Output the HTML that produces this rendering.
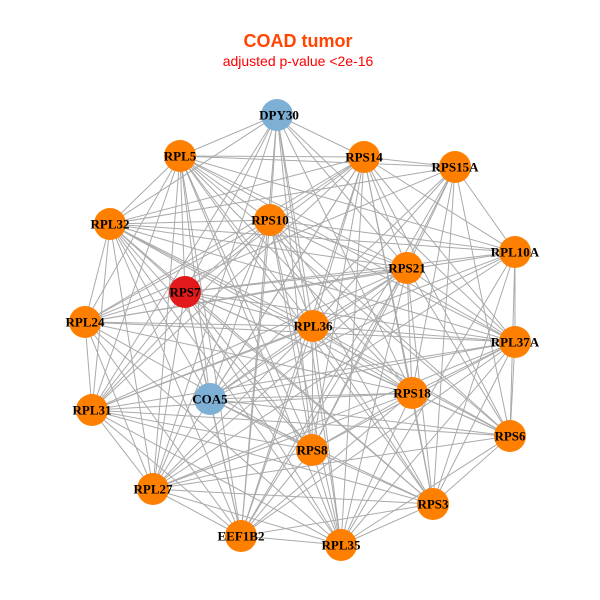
<!DOCTYPE html>
<html><head><meta charset="utf-8"><style>
html,body{margin:0;padding:0;background:#fff;width:600px;height:600px;overflow:hidden}
svg{display:block}
.l{font-family:"Liberation Serif",serif;font-weight:bold;font-size:13px;fill:#000;text-anchor:middle;dominant-baseline:central}
</style></head><body>
<svg id="s" width="600" height="600" viewBox="0 0 600 600">
<text x="298" y="47" text-anchor="middle" font-family="Liberation Sans, sans-serif" font-weight="bold" font-size="18" fill="#FF4500">COAD tumor</text>
<text x="298" y="66" text-anchor="middle" font-family="Liberation Sans, sans-serif" font-size="14" fill="#FF0000">adjusted p-value &lt;2e-16</text>
<g id="e" stroke="#aaaaaa" stroke-width="1"></g>
<g id="n"></g>
<g>
<text class="l" x="279" y="115">DPY30</text>
<text class="l" x="180" y="156">RPL5</text>
<text class="l" x="364" y="157">RPS14</text>
<text class="l" x="455" y="167">RPS15A</text>
<text class="l" x="110" y="224">RPL32</text>
<text class="l" x="270" y="220">RPS10</text>
<text class="l" x="515" y="252">RPL10A</text>
<text class="l" x="407" y="268">RPS21</text>
<text class="l" x="185" y="292">RPS7</text>
<text class="l" x="85" y="322">RPL24</text>
<text class="l" x="313" y="326">RPL36</text>
<text class="l" x="515" y="342">RPL37A</text>
<text class="l" x="210" y="399">COA5</text>
<text class="l" x="412" y="393">RPS18</text>
<text class="l" x="92" y="410">RPL31</text>
<text class="l" x="510" y="436">RPS6</text>
<text class="l" x="312" y="450">RPS8</text>
<text class="l" x="153" y="489">RPL27</text>
<text class="l" x="433" y="504">RPS3</text>
<text class="l" x="241" y="536">EEF1B2</text>
<text class="l" x="341" y="545">RPL35</text>
</g>
</svg>
<script>
var N=[[277,115,'b'],[180,156],[364,157],[455,167],[110,224],[270,220],[515,252],[407,268],[185,292,'r'],[85,322],[313,326],[515,342],[210,399,'b'],[412,393],[92,410],[510,436],[312,450],[153,489],[433,504],[241,536],[341,545]];
var ns="http://www.w3.org/2000/svg",e=document.getElementById('e'),g=document.getElementById('n');
for(var i=0;i<N.length;i++)for(var j=i+1;j<N.length;j++){
 if((i*7+j*3)%9==0)continue;
 var l=document.createElementNS(ns,'line');
 l.setAttribute('x1',N[i][0]);l.setAttribute('y1',N[i][1]);l.setAttribute('x2',N[j][0]);l.setAttribute('y2',N[j][1]);e.appendChild(l);}
for(var i=0;i<N.length;i++){var c=document.createElementNS(ns,'circle');
 c.setAttribute('cx',N[i][0]);c.setAttribute('cy',N[i][1]);c.setAttribute('r',16);
 c.setAttribute('fill',N[i][2]=='b'?'#7EB0D5':N[i][2]=='r'?'#E31A1C':'#FF7F00');g.appendChild(c);}
</script>
</body></html>
